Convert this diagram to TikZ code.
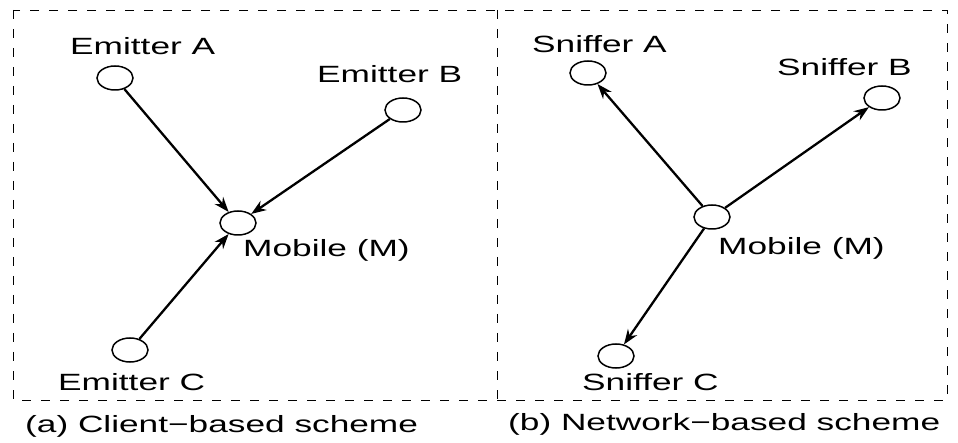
\documentclass[tikz,border=0pt]{standalone}
\usepackage{fontspec}
\setmainfont{Liberation Sans}[FakeStretch=1.5]
\usetikzlibrary{arrows.meta,shapes.geometric}

\begin{document}
\begin{tikzpicture}[x=1pt, y=-1pt, >={Stealth[length=15pt,width=11pt]},
  site/.style={draw, ellipse, line width=1.5pt, minimum width=36pt, minimum height=24pt, inner sep=0pt},
  lbl/.style={anchor=base west, inner sep=0pt, font=\fontsize{23.5}{27}\selectfont},
  link/.style={->, line width=2.3pt},
  frame/.style={line width=0.9pt, dash pattern=on 9pt off 10pt}]
  \useasboundingbox (0,0) rectangle (958,443);

  % dashed frames of both panels
  \draw[frame] (13,10) rectangle (947,400);
  \draw[frame] (497,10) -- (497,400);

  % (a) client-based
  \node[site] (EA) at (115,78) {};
  \node[site] (EB) at (403,110) {};
  \node[site] (EC) at (130,350) {};
  \node[site] (ML) at (238,223) {};
  \node[lbl] (EAlbl) at (70,55) {Emitter A};
  \node[lbl] (EBlbl) at (317,83) {Emitter B};
  \node[lbl] (EClbl) at (58,390) {Emitter C};
  \node[lbl] (MLlbl) at (243,257) {Mobile (M)};

  \draw[link] (EA) -- (ML);
  \draw[link] (EB) -- (ML);
  \draw[link] (EC) -- (ML);

  % (b) network-based
  \node[site] (SA) at (588,73) {};
  \node[site] (SB) at (882,98) {};
  \node[site] (SC) at (616,356) {};
  \node[site] (MR) at (712,217) {};
  \node[lbl] (SAlbl) at (532,53) {Sniffer A};
  \node[lbl] (SBlbl) at (777,76) {Sniffer B};
  \node[lbl] (SClbl) at (582,390) {Sniffer C};
  \node[lbl] (MRlbl) at (718,255) {Mobile (M)};

  \draw[link] (MR) -- (SA);
  \draw[link] (MR) -- (SB);
  \draw[link] (MR) -- (SC);

  % captions
  \node[lbl] (capa) at (25,432) {(a) Client−based scheme};
  \node[lbl] (capb) at (508,430) {(b) Network−based scheme};
\end{tikzpicture}
\end{document}
